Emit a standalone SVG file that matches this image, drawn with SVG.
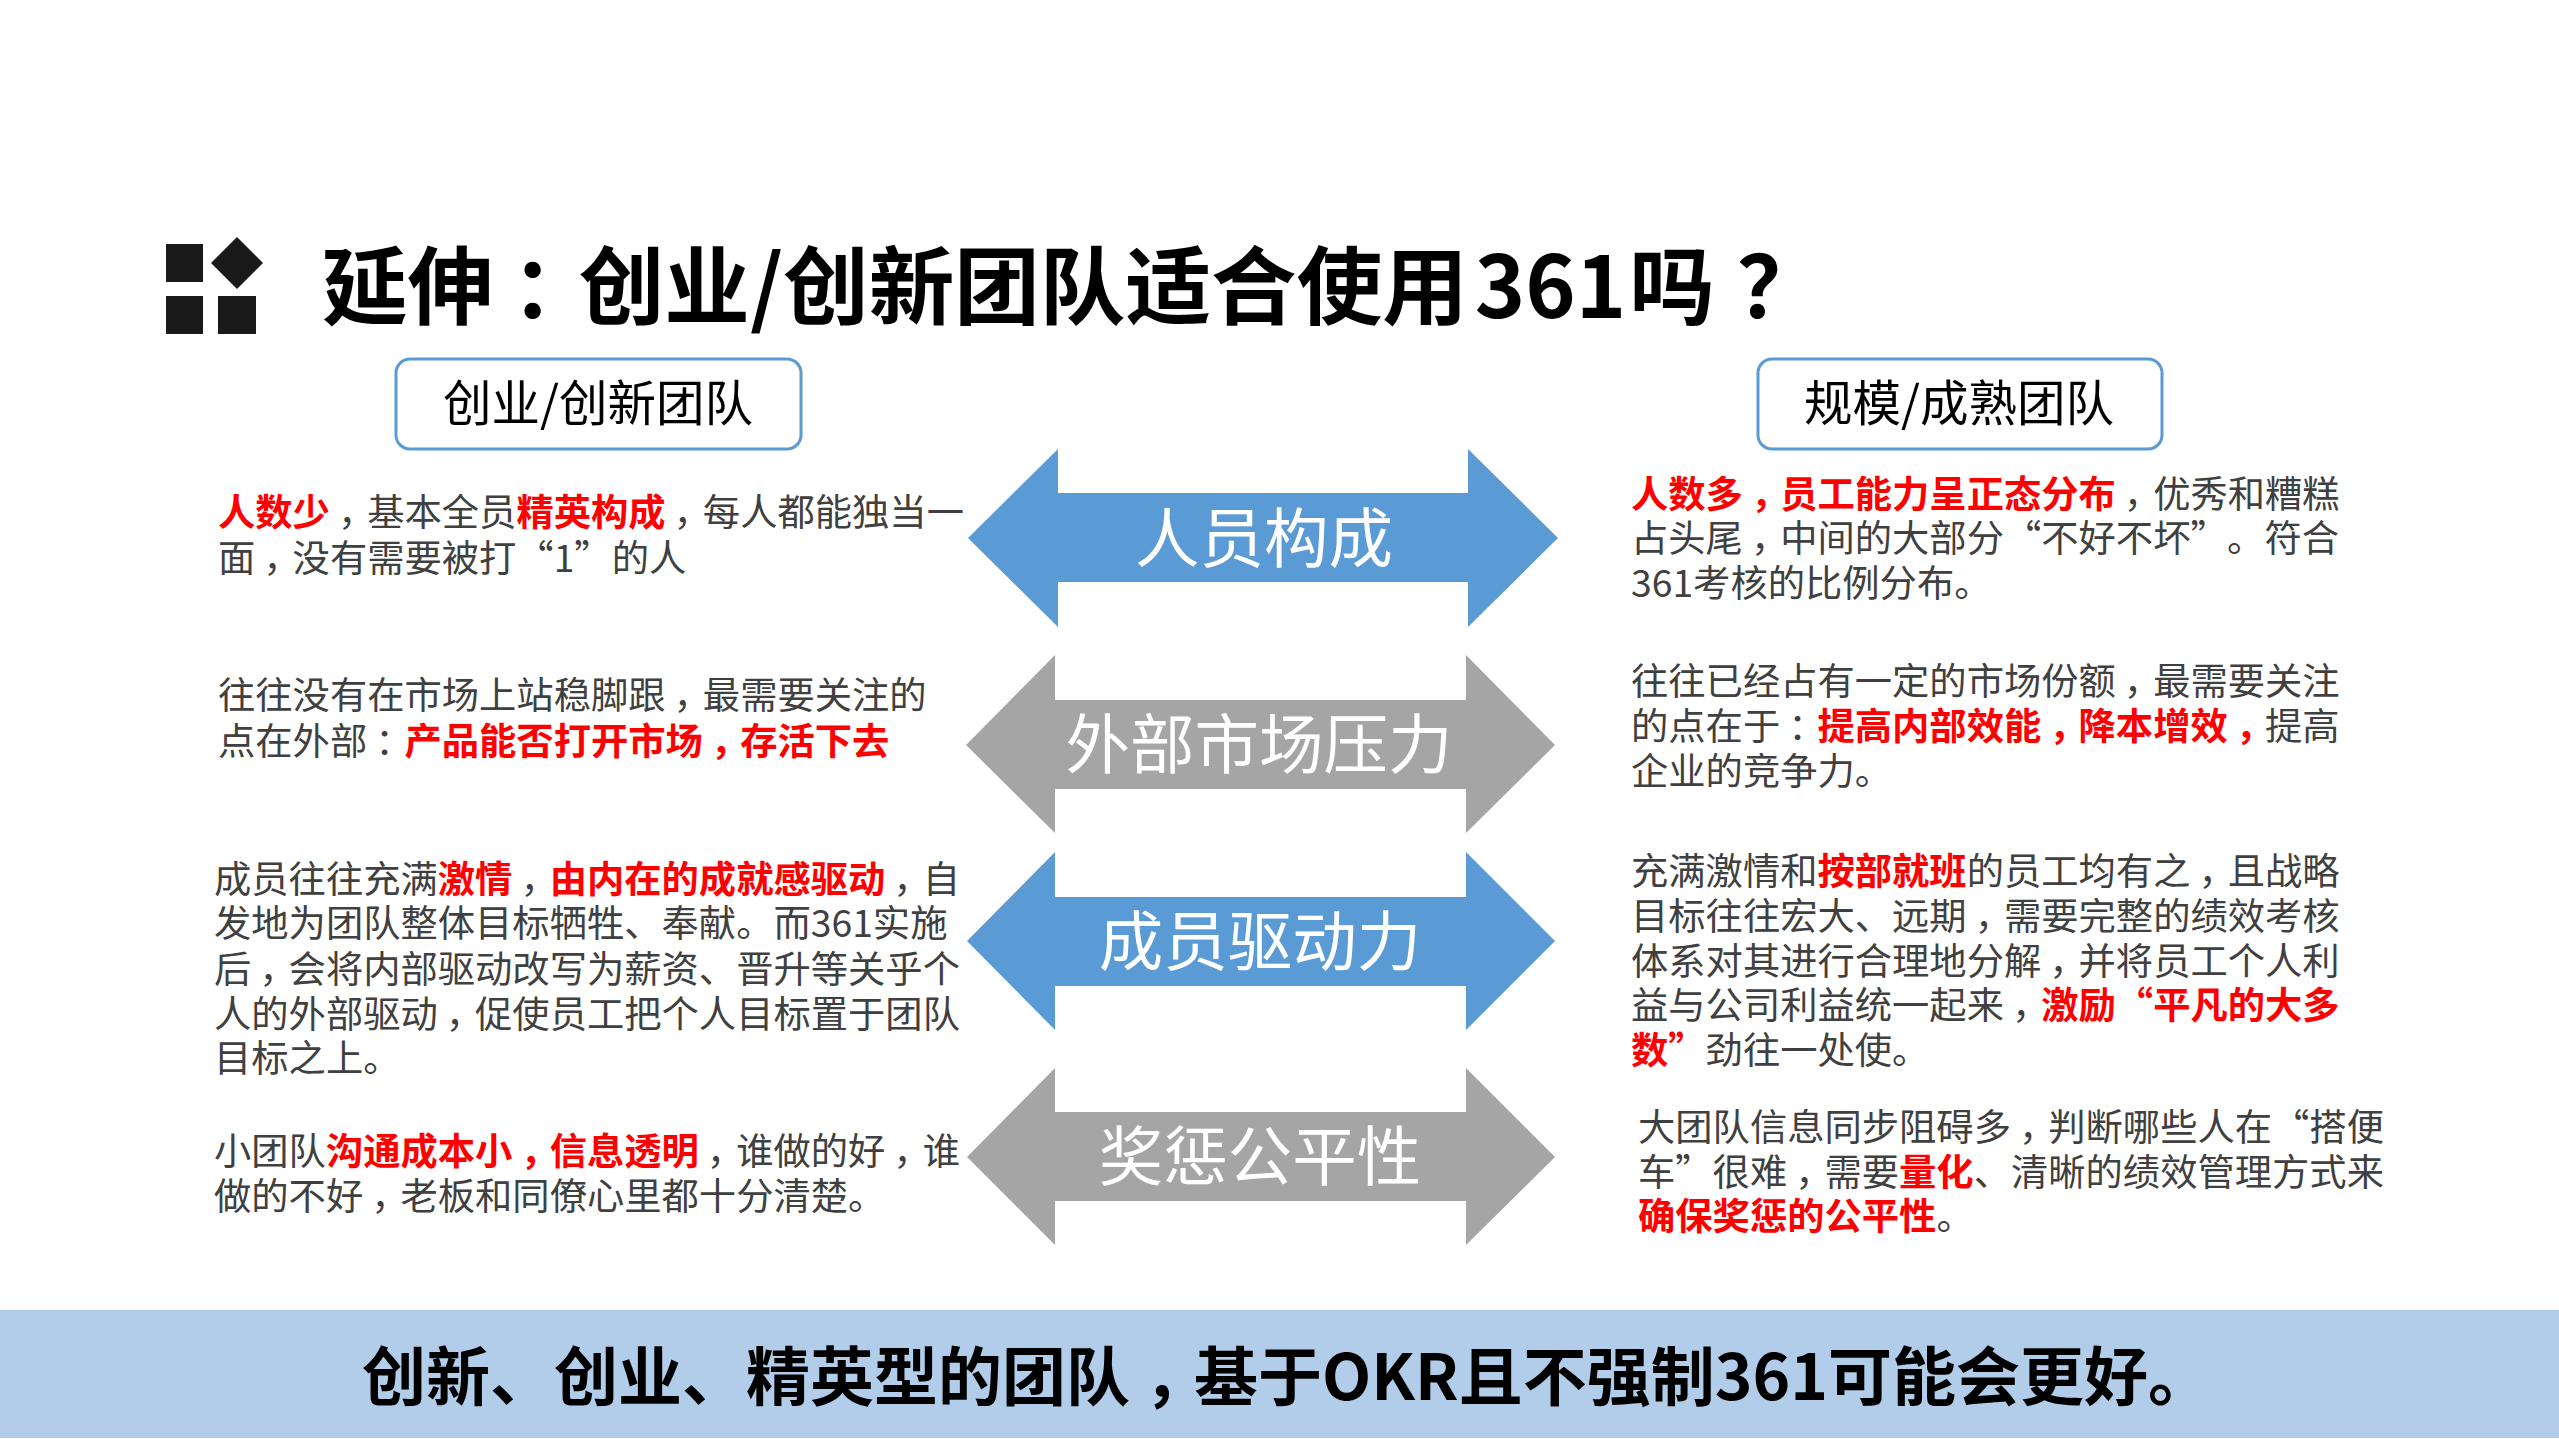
<svg xmlns="http://www.w3.org/2000/svg" width="2559" height="1439" viewBox="0 0 2559 1439">
<style>
text{font-family:"Noto Sans CJK SC","Noto Sans",sans-serif}
.b{font-size:37.3px;fill:#404040}
.r{fill:#f00;font-weight:700}
.h{font-size:48.5px;fill:#000;text-anchor:middle}
.a{font-size:64.5px;fill:#fff;text-anchor:middle}
.box{fill:#fff;stroke:#5b9bd5;stroke-width:3}
.bl{fill:#5b9bd5}.gr{fill:#a5a5a5}
.ic{fill:#1a1a1a}
</style>
<rect width="2559" height="1439" fill="#fff"/>
<g id="title-icon"><rect class="ic" x="166" y="244" width="37" height="38"/><polygon class="ic" points="237,237 263,263 237,289 211,263"/><rect class="ic" x="166" y="296" width="37" height="38"/><rect class="ic" x="218" y="296" width="38" height="38"/></g>
<g id="title"><text x="322" y="318" font-size="85.6" font-weight="700" fill="#000">延伸<tspan dx="18">：</tspan><tspan dx="-18">创业/创新团队适合使用</tspan><tspan dx="7">361</tspan><tspan dx="3">吗</tspan><tspan dx="22">？</tspan></text></g>
<g id="head-left"><rect class="box" x="396" y="359" width="405" height="90" rx="14"/><text class="h" x="598" y="421">创业/创新团队</text></g>
<g id="head-right"><rect class="box" x="1758" y="359" width="404" height="90" rx="14"/><text class="h" x="1959" y="421">规模/成熟团队</text></g>
<g id="arrow-people"><polygon class="bl" points="968,538 1058,449 1058,493 1468,493 1468,449 1558,538 1468,627 1468,582 1058,582 1058,627"/><text class="a" x="1264" y="562">人员构成</text></g>
<g id="arrow-market"><polygon class="gr" points="966,745 1055,655 1055,700 1466,700 1466,655 1555,745 1466,833 1466,789 1055,789 1055,833"/><text class="a" x="1259" y="768">外部市场压力</text></g>
<g id="arrow-drive"><polygon class="bl" points="967,941 1055,852 1055,897 1466,897 1466,852 1555,941 1466,1030 1466,986 1055,986 1055,1030"/><text class="a" x="1260" y="965">成员驱动力</text></g>
<g id="arrow-fair"><polygon class="gr" points="967,1157 1055,1068 1055,1112 1466,1112 1466,1068 1555,1157 1466,1245 1466,1201 1055,1201 1055,1245"/><text class="a" x="1260" y="1180">奖惩公平性</text></g>
<g id="left-people"><text class="b" x="218" y="526"><tspan class="r">人数少</tspan><tspan dx="8">，</tspan><tspan dx="-8">基本全员</tspan><tspan class="r">精英构成</tspan><tspan dx="8">，</tspan><tspan dx="-8">每人都能独当一</tspan></text><text class="b" x="218" y="572">面<tspan dx="8">，</tspan><tspan dx="-8">没有需要被打“1”的人</tspan></text></g>
<g id="left-market"><text class="b" x="218" y="709">往往没有在市场上站稳脚跟<tspan dx="8">，</tspan><tspan dx="-8">最需要关注的</tspan></text><text class="b" x="218" y="755">点在外部<tspan dx="8">：</tspan><tspan dx="-8" class="r">产品能否打开市场</tspan><tspan class="r" dx="8">，</tspan><tspan class="r" dx="-8">存活下去</tspan></text></g>
<g id="left-drive"><text class="b" x="214" y="893">成员往往充满<tspan class="r">激情</tspan><tspan dx="8">，</tspan><tspan class="r" dx="-8">由内在的成就感驱动</tspan><tspan dx="8">，</tspan><tspan dx="-8">自</tspan></text><text class="b" x="214" y="937">发地为团队整体目标牺牲、奉献。而361实施</text><text class="b" x="214" y="983">后<tspan dx="8">，</tspan><tspan dx="-8">会将内部驱动改写为薪资、晋升等关乎个</tspan></text><text class="b" x="214" y="1028">人的外部驱动<tspan dx="8">，</tspan><tspan dx="-8">促使员工把个人目标置于团队</tspan></text><text class="b" x="214" y="1072">目标之上。</text></g>
<g id="left-fair"><text class="b" x="214" y="1165">小团队<tspan class="r">沟通成本小</tspan><tspan class="r" dx="8">，</tspan><tspan class="r" dx="-8">信息透明</tspan><tspan dx="8">，</tspan><tspan dx="-8">谁做的好</tspan><tspan dx="8">，</tspan><tspan dx="-8">谁</tspan></text><text class="b" x="214" y="1210">做的不好<tspan dx="8">，</tspan><tspan dx="-8">老板和同僚心里都十分清楚。</tspan></text></g>
<g id="right-people"><text class="b" x="1631" y="508"><tspan class="r">人数多</tspan><tspan class="r" dx="8">，</tspan><tspan class="r" dx="-8">员工能力呈正态分布</tspan><tspan dx="8">，</tspan><tspan dx="-8">优秀和糟糕</tspan></text><text class="b" x="1631" y="552">占头尾<tspan dx="8">，</tspan><tspan dx="-8">中间的大部分“不好不坏”</tspan><tspan dx="18">。</tspan><tspan>符合</tspan></text><text class="b" x="1631" y="597">361考核的比例分布。</text></g>
<g id="right-market"><text class="b" x="1631" y="695">往往已经占有一定的市场份额<tspan dx="8">，</tspan><tspan dx="-8">最需要关注</tspan></text><text class="b" x="1631" y="740">的点在于<tspan dx="8">：</tspan><tspan class="r" dx="-8">提高内部效能</tspan><tspan class="r" dx="8">，</tspan><tspan class="r" dx="-8">降本增效</tspan><tspan class="r" dx="8">，</tspan><tspan dx="-8">提高</tspan></text><text class="b" x="1631" y="785">企业的竞争力。</text></g>
<g id="right-drive"><text class="b" x="1631" y="885">充满激情和<tspan class="r">按部就班</tspan>的员工均有之<tspan dx="8">，</tspan><tspan dx="-8">且战略</tspan></text><text class="b" x="1631" y="930">目标往往宏大、远期<tspan dx="8">，</tspan><tspan dx="-8">需要完整的绩效考核</tspan></text><text class="b" x="1631" y="975">体系对其进行合理地分解<tspan dx="8">，</tspan><tspan dx="-8">并将员工个人利</tspan></text><text class="b" x="1631" y="1019">益与公司利益统一起来<tspan dx="8">，</tspan><tspan class="r" dx="-8">激励“平凡的大多</tspan></text><text class="b" x="1631" y="1064"><tspan class="r">数”</tspan>劲往一处使。</text></g>
<g id="right-fair"><text class="b" x="1638" y="1141">大团队信息同步阻碍多<tspan dx="8">，</tspan><tspan dx="-8">判断哪些人在“搭便</tspan></text><text class="b" x="1638" y="1186">车”很难<tspan dx="8">，</tspan><tspan dx="-8">需要</tspan><tspan class="r">量化</tspan>、清晰的绩效管理方式来</text><text class="b" x="1638" y="1230"><tspan class="r">确保奖惩的公平性</tspan>。</text></g>
<g id="footer"><rect x="0" y="1310" width="2559" height="128" fill="#b1cde9"/><text x="1287" y="1400" font-size="64" font-weight="700" fill="#000" text-anchor="middle">创新、创业、精英型的团队<tspan dx="14">，</tspan><tspan dx="-14">基于OKR且不强制361可能会更好。</tspan></text></g>
</svg>
